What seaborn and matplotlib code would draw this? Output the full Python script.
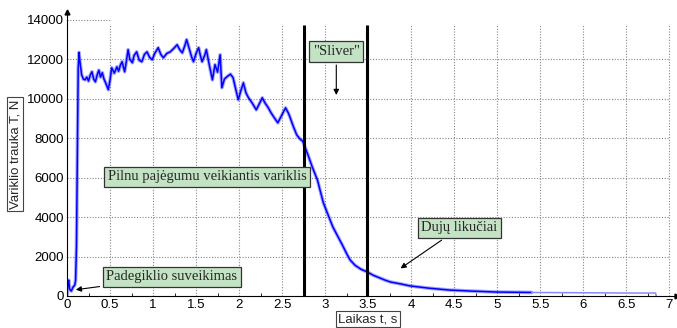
import numpy as np
import pandas as pd
import seaborn as sns
import matplotlib.pyplot as plt

# thrust curve (time s, thrust N)
time_s = [0.00, 0.01, 0.02, 0.03, 0.05, 0.07, 0.09, 0.10, 0.11, 0.115, 0.12, 0.125, 0.13, 0.14,
          0.15, 0.17, 0.19, 0.21, 0.23, 0.25, 0.27, 0.29, 0.31, 0.33, 0.35, 0.37, 0.39, 0.41,
          0.43, 0.45, 0.48, 0.50, 0.52, 0.55, 0.58, 0.60, 0.62, 0.64, 0.67, 0.69, 0.71, 0.73,
          0.76, 0.78, 0.81, 0.84, 0.87, 0.90, 0.93, 0.96, 0.99, 1.02, 1.06, 1.09, 1.12, 1.16,
          1.20, 1.24, 1.28, 1.31, 1.34, 1.37, 1.39, 1.42, 1.45, 1.47, 1.50, 1.53, 1.55, 1.57,
          1.60, 1.62, 1.65, 1.69, 1.72, 1.75, 1.78, 1.80, 1.83, 1.86, 1.90, 1.93, 1.96, 1.99,
          2.02, 2.05, 2.08, 2.11, 2.15, 2.20, 2.23, 2.27, 2.30, 2.34, 2.37, 2.40, 2.45, 2.50,
          2.54, 2.57, 2.59, 2.63, 2.67, 2.71, 2.74, 2.77, 2.80, 2.85, 2.91, 2.98, 3.04, 3.09,
          3.15, 3.20, 3.25, 3.29, 3.35, 3.42, 3.49, 3.56, 3.64, 3.70, 3.76, 3.87, 3.99, 4.20,
          4.45, 4.70, 5.00, 5.40, 5.77, 6.20, 6.50, 6.81, 6.84, 6.85]
thrust_n = [0, 650, 800, 350, 250, 450, 550, 800, 2500, 4500, 7000, 9500, 11500, 12350,
            11900, 11220, 11000, 10960, 11100, 10900, 11200, 11370, 11000, 10860, 11200, 11450, 11100, 11320,
            11000, 10800, 10460, 10950, 11570, 11300, 11620, 11400, 11700, 11880, 11370, 11900, 12490, 12000,
            11830, 12200, 12380, 11950, 11880, 12250, 12380, 12100, 11980, 12300, 12590, 12250, 12080, 12300,
            12380, 12550, 12740, 12490, 12330, 12700, 13000, 12550, 12100, 11880, 12300, 12590, 12200, 11880,
            12200, 12490, 11800, 10960, 11730, 11350, 12230, 10560, 11000, 11120, 11250, 11070, 10500, 9950,
            10400, 10810, 10300, 10050, 9800, 9440, 9700, 10050, 9800, 9540, 9300, 9100, 8780, 9200,
            9540, 9300, 9090, 8600, 8170, 7950, 7850, 7500, 7160, 6550, 5890, 4720, 4050, 3500,
            3000, 2590, 2150, 1830, 1550, 1350, 1220, 1050, 910, 800, 710, 620, 510, 400,
            300, 250, 200, 180, 170, 160, 150, 150, 150, 0]

phase_marks = [2.75, 3.49]
x_ticks = [0, 0.5, 1, 1.5, 2, 2.5, 3, 3.5, 4, 4.5, 5, 5.5, 6, 6.5, 7]
y_ticks = [0, 2000, 4000, 6000, 8000, 10000, 12000, 14000]

df = pd.DataFrame({"t": time_s, "T": thrust_n})

sns.set_style("white")
plt.rcParams["font.family"] = ["Liberation Sans", "DejaVu Sans"]

fig = plt.figure(figsize=(6.77, 3.28), dpi=100)
ax = fig.add_axes([67 / 677, 32 / 328, 610 / 677, 284 / 328])

main = df[df["t"] <= 5.4]
tail = df[df["t"] >= 5.4]
sns.lineplot(data=main, x="t", y="T", ax=ax, color="#0000ff", lw=2.6, alpha=0.35, estimator=None)
sns.lineplot(data=main, x="t", y="T", ax=ax, color="#0000ff", lw=1.1, estimator=None)
sns.lineplot(data=tail, x="t", y="T", ax=ax, color="#8888ff", lw=1.1, estimator=None)

ax.set_xlim(0, 7.09)
ax.set_ylim(0, 14400)

# dotted grid, stopping short of the top like the original
grid_kw = dict(color="#888888", ls=(0, (1, 1.5)), lw=0.8, zorder=0)
ax.vlines(x_ticks[1:], 0, 13760, **grid_kw)
ax.hlines(y_ticks[1:-1], 0, 7, **grid_kw)
ax.hlines(y_ticks[-1], 0, 0.5, **grid_kw)

ax.vlines(phase_marks, 0, 13760, color="black", lw=2.2, zorder=3)

for s in ["top", "right"]:
    ax.spines[s].set_visible(False)
for s in ["left", "bottom"]:
    ax.spines[s].set_linewidth(0.8)
    ax.spines[s].set_color("black")
ax.plot(1, 0, ">k", ms=3.5, transform=ax.get_yaxis_transform(), clip_on=False)
ax.plot(0, 1, "^k", ms=3.5, transform=ax.get_xaxis_transform(), clip_on=False)

ax.set_xticks(x_ticks)
ax.set_xticklabels(["0", "0.5", "1", "1.5", "2", "2.5", "3", "3.5", "4", "4.5", "5", "5.5", "6", "6.5", "7"])
ax.set_xticks(np.arange(0.25, 7, 0.5), minor=True)
ax.set_yticks(y_ticks)
ax.set_yticklabels([str(v) for v in y_ticks])
ax.tick_params(axis="both", which="both", direction="in", labelsize=9.5, colors="black", pad=2)
ax.tick_params(axis="both", which="major", length=4, width=0.8)
ax.tick_params(axis="x", which="minor", length=2.5, width=0.6, bottom=True)

lbl_box = dict(boxstyle="square,pad=0.15", fc="white", ec="#444444", lw=0.8)
ax.set_xlabel("Laikas t, s", fontsize=9.5, bbox=lbl_box)
ax.xaxis.set_label_coords(3.5 / 7.09, -0.06)
ax.set_ylabel("Variklio trauka T, N", fontsize=9.5, bbox=lbl_box)
ax.yaxis.set_label_coords(-0.075, 0.5)

note_box = dict(boxstyle="square,pad=0.25", fc="#c4e3c4", ec="#333333", lw=0.9)
note_font = dict(family=["Liberation Serif", "DejaVu Serif"], fontsize=10.5)
arrow = dict(arrowstyle="-|>", color="black", lw=0.8, mutation_scale=8)

ax.annotate('"Sliver"', xy=(3.13, 10050), xytext=(3.13, 12390), ha="center", va="center",
            bbox=note_box, arrowprops=arrow, **note_font)
ax.text(1.63, 6040, "Pilnu pajėgumu veikiantis variklis", ha="center", va="center",
        bbox=note_box, zorder=4, **note_font)
ax.annotate("Padegiklio suveikimas", xy=(0.07, 300), xytext=(1.22, 965), ha="center", va="center",
            bbox=note_box, arrowprops=arrow, **note_font)
ax.annotate("Dujų likučiai", xy=(3.85, 1320), xytext=(4.56, 3450), ha="center", va="center",
            bbox=note_box, arrowprops=arrow, **note_font)

fig.savefig("out.png", dpi=100)
